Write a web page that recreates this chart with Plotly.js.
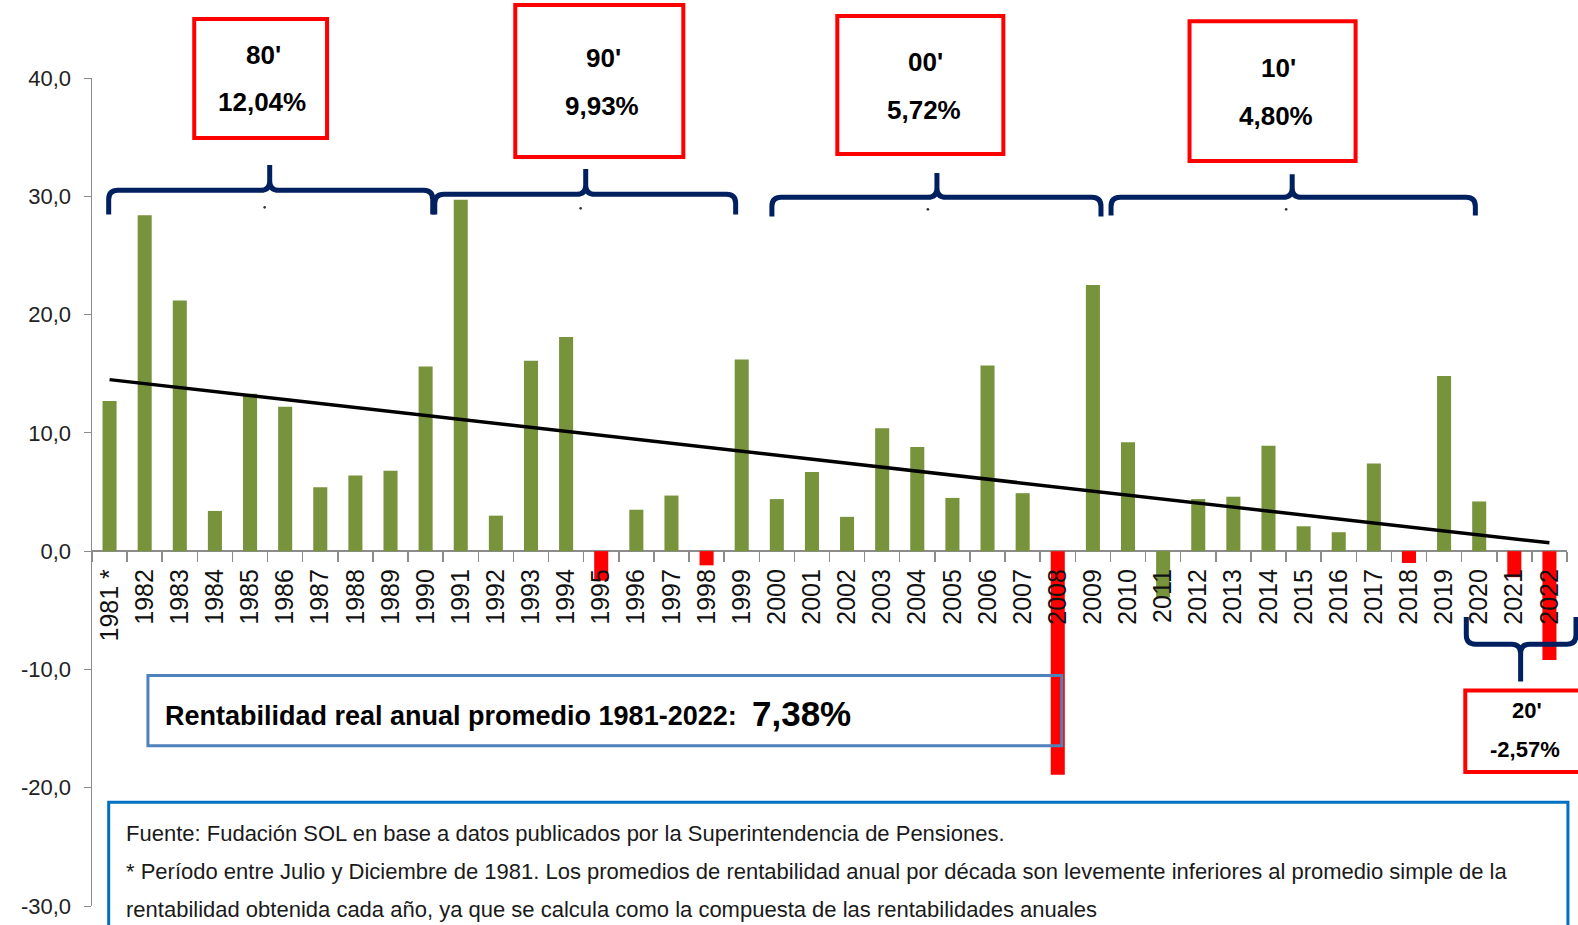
<!DOCTYPE html>
<html>
<head>
<meta charset="utf-8">
<script src="https://cdn.plot.ly/plotly-3.0.1.min.js"></script>
<style>html,body{margin:0;padding:0;background:#fff;}#chart{width:1578px;height:925px;}</style>
</head>
<body>
<div id="chart"></div>
<script>
// ---- data ----
const years = ['1981 *','1982','1983','1984','1985','1986','1987','1988','1989','1990',
  '1991','1992','1993','1994','1995','1996','1997','1998','1999','2000',
  '2001','2002','2003','2004','2005','2006','2007','2008','2009','2010',
  '2011','2012','2013','2014','2015','2016','2017','2018','2019','2020',
  '2021','2022'];
const returns = [12.7, 28.4, 21.2, 3.4, 13.3, 12.2, 5.4, 6.4, 6.8, 15.6,
  29.7, 3.0, 16.1, 18.1, -2.5, 3.5, 4.7, -1.2, 16.2, 4.4,
  6.7, 2.9, 10.4, 8.8, 4.5, 15.7, 4.9, -18.9, 22.5, 9.2,
  -3.9, 4.4, 4.6, 8.9, 2.1, 1.6, 7.4, -1.0, 14.8, 4.2,
  -2.2, -9.2];
const redYears = ['1995','1998','2008','2018','2021','2022'];
const trendYears = ['1981 *','2022'];
const trendValues = [14.5, 0.7];
const yTickVals = [-30, -20, -10, 0, 10, 20, 30, 40];
const yTickText = ['-30,0','-20,0','-10,0','0,0','10,0','20,0','30,0','40,0'];
const decadeNames = ["80'", "90'", "00'", "10'", "20'"];
const decadeAvg = ['12,04%', '9,93%', '5,72%', '4,80%', '-2,57%'];
const avgLabel = 'Rentabilidad real anual promedio 1981-2022:';
const avgValue = '7,38%';
const sourceLines = [
  'Fuente: Fudación SOL en base a datos publicados por la Superintendencia de Pensiones.',
  '* Período entre Julio y Diciembre de 1981. Los promedios de rentabilidad anual por década son levemente inferiores al promedio simple de la',
  'rentabilidad obtenida cada año, ya que se calcula como la compuesta de las rentabilidades anuales'
];

// ---- geometry helpers (pixel -> paper) ----
const KX = 1578/1568, KY = 925/919;
const L = 92, R = 1567, T = 78, B = 906;
const fx = x => (x*KX - L)/(R - L);
const fy = y => (B - y*KY)/(B - T);
const P = (x, y) => fx(x) + ',' + fy(y);

function bracePath(x0, x1, xm, yL, yE, yT) {
  const r = 9, s = Math.sign(yE - yL);
  return 'M' + P(x0, yE) + ' L' + P(x0, yL + s*r) + ' Q' + P(x0, yL) + ' ' + P(x0 + r, yL) +
    ' L' + P(xm - r, yL) + ' Q' + P(xm, yL) + ' ' + P(xm, yL - s*r) + ' L' + P(xm, yT) +
    ' L' + P(xm, yL - s*r) + ' Q' + P(xm, yL) + ' ' + P(xm + r, yL) +
    ' L' + P(x1 - r, yL) + ' Q' + P(x1, yL) + ' ' + P(x1, yL + s*r) + ' L' + P(x1, yE);
}

const NAVY = '#002060';
const FONT = 'Liberation Sans, Arial, sans-serif';

const colors = years.map(y => redYears.includes(y) ? '#FF0000' : '#77933C');

const traces = [
  {type: 'bar', x: years, y: returns, marker: {color: colors, line: {width: 0}},
   hoverinfo: 'skip', showlegend: false},
  {type: 'scatter', mode: 'lines', x: trendYears, y: trendValues,
   line: {color: '#000000', width: 3.5}, hoverinfo: 'skip', showlegend: false}
];

const boxes = [
  [193, 19, 325, 137], [512, 5, 679, 156], [832, 16, 997, 153], [1182, 21, 1347, 160], [1456, 686, 1590, 767]
];
const shapes = [];
boxes.forEach(b => shapes.push({type: 'rect', xref: 'paper', yref: 'paper',
  x0: fx(b[0]), x1: fx(b[2]), y0: fy(b[3]), y1: fy(b[1]),
  line: {color: '#FF0000', width: 4}, fillcolor: '#FFFFFF'}));
shapes.push({type: 'rect', xref: 'paper', yref: 'paper', x0: fx(147), x1: fx(1055), y0: fy(741), y1: fy(671),
  line: {color: '#4F81BD', width: 3}, fillcolor: 'rgba(0,0,0,0)'});
shapes.push({type: 'rect', xref: 'paper', yref: 'paper', x0: fx(108), x1: fx(1558), y0: fy(935), y1: fy(797),
  line: {color: '#0070C0', width: 3}, fillcolor: 'rgba(0,0,0,0)'});

const braces = [
  [108, 430, 268, 189, 213, 164],
  [432, 731, 582, 193, 213, 168],
  [767, 1094, 931, 196, 215, 172],
  [1104, 1466, 1284, 196, 214, 173],
  [1457, 1566, 1511, 640, 613, 677]
];
braces.forEach(b => shapes.push({type: 'path', xref: 'paper', yref: 'paper',
  path: bracePath(...b), line: {color: NAVY, width: 5}}));
[[263, 206], [577, 207], [922, 208], [1278, 208]].forEach(d => shapes.push({type: 'circle', xref: 'paper', yref: 'paper',
  x0: fx(d[0] - 1.3), x1: fx(d[0] + 1.3), y0: fy(d[1] + 1.3), y1: fy(d[1] - 1.3),
  line: {width: 0}, fillcolor: '#333'}));

const annotations = [];
const decPos = [[262, 55, 101], [600, 58, 105], [920, 62, 109], [1270, 68, 115], [1517, 706, 745]];
decadeNames.forEach((n, i) => {
  const p = decPos[i], sz = i === 4 ? 22 : 26;
  annotations.push({xref: 'paper', yref: 'paper', x: fx(p[0]), y: fy(p[1]), xanchor: 'center', yanchor: 'middle',
    text: '<b>' + n + '</b>', showarrow: false, font: {family: FONT, size: sz, color: '#000'}});
  annotations.push({xref: 'paper', yref: 'paper', x: fx(p[0] - 2), y: fy(p[2]), xanchor: 'center', yanchor: 'middle',
    text: '<b>' + decadeAvg[i] + '</b>', showarrow: false, font: {family: FONT, size: sz, color: '#000'}});
});
annotations.push({xref: 'paper', yref: 'paper', x: fx(162), y: fy(711), xanchor: 'left', yanchor: 'middle',
  text: '<b>' + avgLabel + '</b>', showarrow: false, font: {family: FONT, size: 27, color: '#000'}});
annotations.push({xref: 'paper', yref: 'paper', x: fx(745), y: fy(709), xanchor: 'left', yanchor: 'middle',
  text: '<b>' + avgValue + '</b>', showarrow: false, font: {family: FONT, size: 35, color: '#000'}});
const srcY = [828, 866, 904];
sourceLines.forEach((t, i) => annotations.push({xref: 'paper', yref: 'paper', x: fx(123), y: fy(srcY[i]),
  xanchor: 'left', yanchor: 'middle', text: t, showarrow: false, font: {family: FONT, size: 22, color: '#1a1a1a'}}));

const layout = {
  width: 1578, height: 925,
  margin: {l: L, r: 1578 - R, t: T, b: 925 - B, pad: 0},
  paper_bgcolor: '#FFFFFF', plot_bgcolor: 'rgba(0,0,0,0)',
  bargap: 0.6,
  showlegend: false,
  xaxis: {type: 'category', anchor: 'free', position: 30/70, tickson: 'boundaries',
    ticks: 'outside', ticklen: 10, tickwidth: 1.5, tickcolor: '#8c8c8c', tickangle: -90,
    ticklabelstandoff: 12,
    showgrid: false, showline: false, zeroline: false, fixedrange: true,
    tickfont: {family: FONT, size: 25, color: '#111'},
    range: [-0.5, years.length - 0.5]},
  yaxis: {range: [-30, 40], tickvals: yTickVals, ticktext: yTickText, showgrid: false,
    zeroline: true, zerolinecolor: '#8c8c8c', zerolinewidth: 1.5,
    showline: true, linecolor: '#8c8c8c', linewidth: 1.5, ticks: 'outside', ticklen: 7, tickcolor: '#8c8c8c',
    ticklabelstandoff: 8,
    tickfont: {family: FONT, size: 22, color: '#222'}, fixedrange: true},
  shapes: shapes,
  annotations: annotations
};

Plotly.newPlot('chart', traces, layout, {displayModeBar: false, staticPlot: true});
</script>
</body>
</html>
